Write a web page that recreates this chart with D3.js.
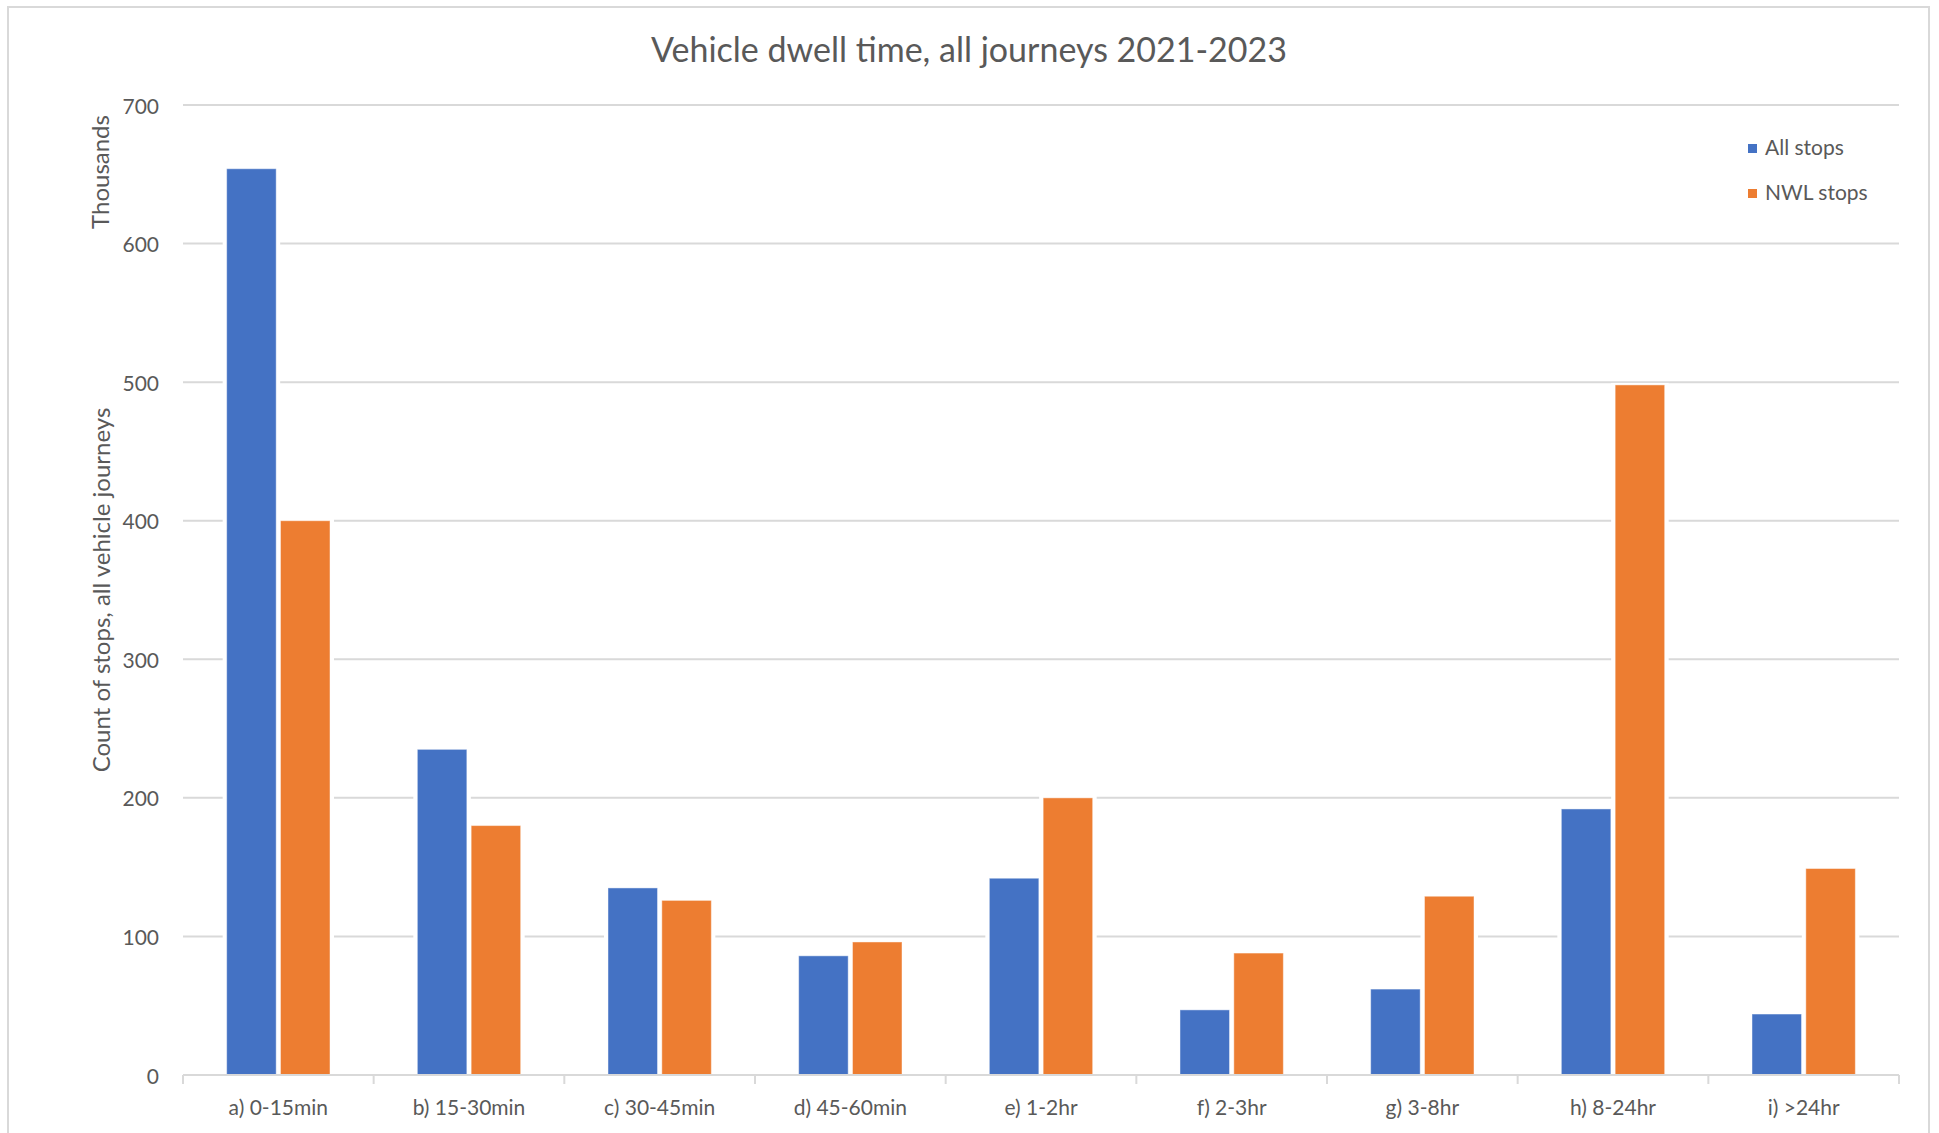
<!DOCTYPE html>
<html>
<head>
<meta charset="utf-8">
<script src="https://cdn.jsdelivr.net/npm/d3@7"></script>
<style>
  html, body { margin: 0; padding: 0; background: #ffffff; }
  svg { display: block; }
  text { font-family: Lato, "Open Sans", "Liberation Sans", sans-serif; fill: #595959; }
</style>
</head>
<body>
<svg id="chart" width="1939" height="1133"></svg>
<script>
// Dwell-time buckets and counts of stops (thousands)
const categories = ["a) 0-15min", "b) 15-30min", "c) 30-45min", "d) 45-60min",
                    "e) 1-2hr", "f) 2-3hr", "g) 3-8hr", "h) 8-24hr", "i) >24hr"];
const seriesNames = ["All stops", "NWL stops"];
const allStops = [654, 235, 135, 86, 142, 47, 62, 192, 44];
const nwlStops = [400, 180, 126, 96, 200, 88, 129, 498, 149];
const yTicks = [0, 100, 200, 300, 400, 500, 600, 700];
const seriesColors = ["#4472C4", "#ED7D31"];

const titleText = "Vehicle dwell time, all journeys 2021-2023";
const yAxisTitle = "Count of stops, all vehicle journeys";
const unitsLabel = "Thousands";

const svg = d3.select("#chart");
const grid = "#d9d9d9";

// Chart frame
svg.append("rect")
  .attr("x", 8).attr("y", 7)
  .attr("width", 1921).attr("height", 1150)
  .attr("fill", "#ffffff")
  .attr("stroke", grid).attr("stroke-width", 2);

// Plot area
const plot = { left: 183, right: 1899, top: 105, bottom: 1075 };

const x = d3.scaleBand().domain(categories).range([plot.left, plot.right]).padding(0);
const bw = x.bandwidth();
const xInner = d3.scaleBand().domain(seriesNames)
  .range([bw * 0.229, bw * 0.771]).paddingInner(0.08).paddingOuter(0);
const y = d3.scaleLinear().domain([0, 700]).range([plot.bottom, plot.top]);

// Title
svg.append("text")
  .attr("x", 969).attr("y", 62)
  .attr("text-anchor", "middle")
  .style("font-size", "34px")
  .text(titleText);

// Horizontal gridlines
svg.append("g")
  .selectAll("line")
  .data(yTicks.filter(d => d > 0))
  .join("line")
  .attr("x1", plot.left).attr("x2", plot.right)
  .attr("y1", d => y(d)).attr("y2", d => y(d))
  .attr("stroke", grid).attr("stroke-width", 2);

// Y tick labels
svg.append("g")
  .selectAll("text")
  .data(yTicks)
  .join("text")
  .attr("x", 159).attr("y", d => y(d))
  .attr("text-anchor", "end")
  .attr("dominant-baseline", "central")
  .style("font-size", "21px")
  .text(d => d);

// Bars
const rows = categories.map((c, i) => ({ cat: c, values: [allStops[i], nwlStops[i]] }));
const groups = svg.append("g")
  .selectAll("g")
  .data(rows)
  .join("g")
  .attr("transform", d => `translate(${x(d.cat)},0)`);

const barData = d => d.values.map((v, j) => ({ name: seriesNames[j], value: v, color: seriesColors[j] }));

// white halo that breaks the gridlines around each bar
groups.selectAll("rect.halo")
  .data(barData)
  .join("rect")
  .attr("class", "halo")
  .attr("x", d => xInner(d.name) - 4)
  .attr("width", xInner.bandwidth() + 8)
  .attr("y", d => y(d.value) - 2)
  .attr("height", d => y(0) - y(d.value) + 2)
  .attr("fill", "#ffffff");

groups.selectAll("rect.bar")
  .data(barData)
  .join("rect")
  .attr("class", "bar")
  .attr("x", d => xInner(d.name))
  .attr("width", xInner.bandwidth())
  .attr("y", d => y(d.value))
  .attr("height", d => y(0) - y(d.value))
  .attr("fill", d => d.color)
  .attr("stroke", "rgba(255,255,255,0.45)")
  .attr("stroke-width", 1);

// X axis line and tick marks at the category boundaries
svg.append("line")
  .attr("x1", plot.left).attr("x2", plot.right)
  .attr("y1", y(0)).attr("y2", y(0))
  .attr("stroke", grid).attr("stroke-width", 2);

const boundaries = categories.map(c => x(c)).concat([plot.right]);
svg.append("g")
  .selectAll("line")
  .data(boundaries)
  .join("line")
  .attr("x1", d => d).attr("x2", d => d)
  .attr("y1", y(0)).attr("y2", y(0) + 9)
  .attr("stroke", grid).attr("stroke-width", 2);

// X category labels
svg.append("g")
  .selectAll("text")
  .data(categories)
  .join("text")
  .attr("x", d => x(d) + bw / 2)
  .attr("y", 1115)
  .attr("text-anchor", "middle")
  .style("font-size", "21px")
  .text(d => d);

// Y axis title and display-units label
svg.append("text")
  .attr("transform", `translate(110, ${(plot.top + plot.bottom) / 2}) rotate(-90)`)
  .attr("text-anchor", "middle")
  .style("font-size", "24px")
  .text(yAxisTitle);

svg.append("text")
  .attr("transform", `translate(109, 172) rotate(-90)`)
  .attr("text-anchor", "middle")
  .style("font-size", "24px")
  .text(unitsLabel);

// Legend
const legend = svg.append("g")
  .selectAll("g")
  .data(seriesNames)
  .join("g")
  .attr("transform", (d, i) => `translate(1748, ${144 + i * 45})`);

legend.append("rect")
  .attr("width", 9).attr("height", 9)
  .attr("fill", (d, i) => seriesColors[i]);

legend.append("text")
  .attr("x", 17).attr("y", 11)
  .style("font-size", "21px")
  .text(d => d);
</script>
</body>
</html>
